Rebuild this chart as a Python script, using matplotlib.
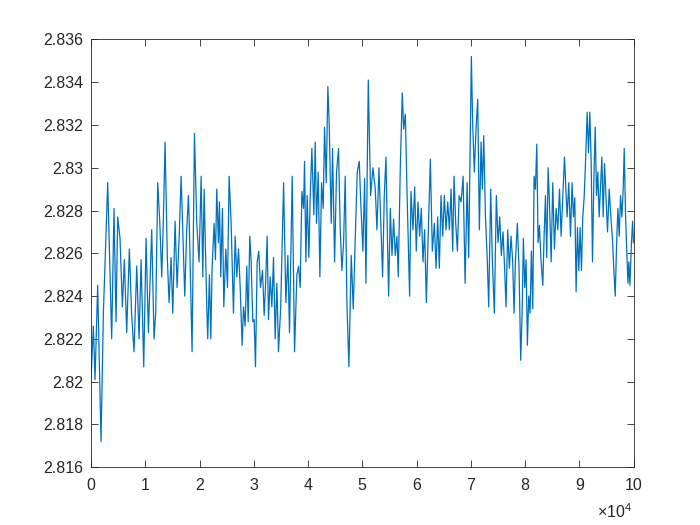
import numpy as np
import matplotlib
matplotlib.use("Agg")
import matplotlib.pyplot as plt

plt.rcParams['font.family'] = ['Liberation Sans', 'DejaVu Sans']
plt.rcParams['mathtext.fontset'] = 'custom'
plt.rcParams['mathtext.rm'] = 'Liberation Sans'
plt.rcParams['mathtext.it'] = 'Liberation Sans'

# x positions in units of 1e4
x_units = [
 0, 0.043, 0.074, 0.123, 0.185, 0.228, 0.308, 0.381, 0.424, 0.461, 0.492, 0.535, 0.578, 0.615, 0.658,
 0.707, 0.750, 0.793, 0.843, 0.886, 0.923, 0.972, 1.015, 1.058, 1.119, 1.162, 1.193, 1.230, 1.267, 1.304,
 1.335, 1.365, 1.408, 1.439, 1.476, 1.507, 1.550, 1.587, 1.630,
 1.661, 1.691, 1.728, 1.765, 1.796, 1.814, 1.863, 1.907, 1.950, 1.992, 2.030, 2.061, 2.085, 2.134, 2.152,
 2.183, 2.208, 2.232, 2.269, 2.294, 2.318, 2.349, 2.368, 2.392, 2.423, 2.448, 2.485, 2.516, 2.546, 2.583,
 2.626, 2.657, 2.688, 2.719, 2.750, 2.786, 2.811, 2.841, 2.872, 2.897, 2.927, 2.952, 2.983, 3.007, 3.032,
 3.063, 3.093, 3.124, 3.161, 3.192, 3.216, 3.247, 3.272, 3.303, 3.334, 3.364, 3.395, 3.426, 3.456,
 3.497, 3.55, 3.592, 3.629, 3.659, 3.709, 3.752, 3.795, 3.826, 3.856, 3.887, 3.918, 3.936, 3.961, 3.985,
 4.016, 4.041, 4.071, 4.108, 4.133, 4.157, 4.188, 4.219, 4.250, 4.280, 4.305, 4.336, 4.366, 4.391, 4.428,
 4.453, 4.490, 4.526, 4.563, 4.594, 4.625, 4.656, 4.686, 4.717, 4.754, 4.797, 4.834, 4.871, 4.908, 4.945,
 4.969, 5.012, 5.043, 5.068, 5.111, 5.154, 5.197,
 5.24, 5.271, 5.308, 5.345, 5.375, 5.406, 5.437, 5.468, 5.486, 5.517, 5.548, 5.578, 5.609, 5.640, 5.664,
 5.701, 5.738, 5.763, 5.794, 5.824, 5.873, 5.898, 5.935, 5.966, 5.996, 6.027, 6.058, 6.089, 6.119, 6.150,
 6.181, 6.218, 6.255, 6.292, 6.329, 6.360, 6.390, 6.421, 6.452, 6.483, 6.513, 6.544, 6.575, 6.606, 6.637,
 6.667, 6.692, 6.723, 6.754, 6.785, 6.822, 6.859, 6.896, 6.933, 6.962,
 6.993, 7.011, 7.036, 7.066, 7.097, 7.128, 7.159, 7.190, 7.214, 7.239, 7.270, 7.306, 7.331, 7.368, 7.399,
 7.435, 7.472, 7.503, 7.534, 7.564, 7.595, 7.626, 7.650, 7.681, 7.712, 7.743, 7.773, 7.798, 7.823, 7.859,
 7.890, 7.921, 7.946, 7.970, 7.995, 8.020, 8.044, 8.069, 8.094, 8.118, 8.143, 8.168, 8.192, 8.217, 8.241,
 8.266, 8.297, 8.328, 8.352, 8.377, 8.401, 8.426, 8.451, 8.482, 8.512, 8.543, 8.574, 8.605, 8.636, 8.666,
 8.697, 8.728,
 8.776, 8.807, 8.838, 8.868, 8.893, 8.918, 8.942, 8.967, 8.992, 9.016, 9.041, 9.065, 9.090, 9.115, 9.146,
 9.170, 9.195, 9.220, 9.244, 9.269, 9.294, 9.318, 9.343, 9.367, 9.392, 9.417, 9.441, 9.466, 9.497, 9.521,
 9.552, 9.583, 9.614, 9.638, 9.663, 9.687, 9.712, 9.737, 9.761, 9.786, 9.810, 9.829, 9.854, 9.878, 9.897,
 9.915, 9.934, 9.959, 9.983, 10.0,
]

y_values = [
 2.8201, 2.8226, 2.8201, 2.8245, 2.8172, 2.8232, 2.8293, 2.8220, 2.8281, 2.8228, 2.8277, 2.8267, 2.8235, 2.8257, 2.8223,
 2.8262, 2.8231, 2.8214, 2.8254, 2.8220, 2.8257, 2.8207, 2.8267, 2.8223, 2.8271, 2.8220, 2.8232, 2.8293, 2.8275, 2.8249,
 2.8277, 2.8312, 2.8257, 2.8237, 2.8258, 2.8232, 2.8275, 2.8244, 2.8271,
 2.8296, 2.8271, 2.8240, 2.8271, 2.8287, 2.8271, 2.8214, 2.8316, 2.8274, 2.8256, 2.8296, 2.8249, 2.8290, 2.8235, 2.8220,
 2.8250, 2.8220, 2.8253, 2.8274, 2.8257, 2.8290, 2.8265, 2.8284, 2.8249, 2.8281, 2.8235, 2.8262, 2.8244, 2.8296, 2.8274,
 2.8232, 2.8268, 2.8249, 2.8262, 2.8244, 2.8217, 2.8235, 2.8226, 2.8254, 2.8228, 2.8268, 2.8256, 2.8228, 2.8229, 2.8207,
 2.8256, 2.8261, 2.8244, 2.8252, 2.8231, 2.8244, 2.8268, 2.8229, 2.8249, 2.8235, 2.8258, 2.8220, 2.8246, 2.8214,
 2.8235, 2.8293, 2.8237, 2.8259, 2.8223, 2.8296, 2.8214, 2.8250, 2.8254, 2.8244, 2.8289, 2.8281, 2.8303, 2.8256, 2.8287,
 2.8258, 2.8287, 2.8309, 2.8278, 2.8312, 2.8274, 2.8298, 2.8249, 2.8293, 2.8281, 2.8319, 2.8293, 2.8338, 2.8320, 2.8274,
 2.8309, 2.8256, 2.8298, 2.8309, 2.8271, 2.8252, 2.8265, 2.8296, 2.8237, 2.8207, 2.8259, 2.8234, 2.8267, 2.8298, 2.8303,
 2.8286, 2.8261, 2.8295, 2.8246, 2.8341, 2.8287, 2.8300,
 2.8290, 2.8271, 2.8300, 2.8271, 2.8249, 2.8287, 2.8305, 2.8262, 2.8240, 2.8281, 2.8259, 2.8276, 2.8259, 2.8268, 2.8249,
 2.8300, 2.8335, 2.8318, 2.8325, 2.8290, 2.8240, 2.8289, 2.8271, 2.8291, 2.8261, 2.8284, 2.8268, 2.8281, 2.8256, 2.8271,
 2.8237, 2.8270, 2.8304, 2.8261, 2.8274, 2.8253, 2.8277, 2.8253, 2.8287, 2.8268, 2.8287, 2.8271, 2.8284, 2.8271, 2.8290,
 2.8261, 2.8296, 2.8274, 2.8261, 2.8287, 2.8284, 2.8296, 2.8246, 2.8293, 2.8258,
 2.8318, 2.8352, 2.8320, 2.8298, 2.8318, 2.8332, 2.8271, 2.8312, 2.8290, 2.8315, 2.8278, 2.8256, 2.8235, 2.8290, 2.8256,
 2.8232, 2.8287, 2.8265, 2.8277, 2.8259, 2.8270, 2.8252, 2.8235, 2.8271, 2.8253, 2.8268, 2.8256, 2.8232, 2.8256, 2.8274,
 2.8253, 2.8210, 2.8231, 2.8267, 2.8244, 2.8257, 2.8217, 2.8240, 2.8232, 2.8261, 2.8234, 2.8296, 2.8290, 2.8311, 2.8265,
 2.8273, 2.8256, 2.8245, 2.8268, 2.8287, 2.8258, 2.8300, 2.8284, 2.8256, 2.8293, 2.8262, 2.8281, 2.8271, 2.8290, 2.8268,
 2.8287, 2.8305,
 2.8277, 2.8293, 2.8268, 2.8293, 2.8277, 2.8286, 2.8242, 2.8272, 2.8252, 2.8272, 2.8252, 2.8277, 2.8286, 2.8302, 2.8326,
 2.8307, 2.8326, 2.8302, 2.8256, 2.8294, 2.8319, 2.8287, 2.8298, 2.8277, 2.8291, 2.8305, 2.8277, 2.8302, 2.8284, 2.8270,
 2.8290, 2.8277, 2.8266, 2.8252, 2.8240, 2.8263, 2.8281, 2.8268, 2.8287, 2.8277, 2.8290, 2.8309, 2.8277, 2.8259, 2.8246,
 2.8256, 2.8245, 2.8263, 2.8275, 2.8265,
]

x_scale = 1e4
x_ticks = list(range(0, 11))
y_ticks = [2.816, 2.818, 2.820, 2.822, 2.824, 2.826, 2.828, 2.830, 2.832, 2.834, 2.836]
y_tick_labels = ['2.816', '2.818', '2.82', '2.822', '2.824', '2.826', '2.828', '2.83', '2.832', '2.834', '2.836']

fig = plt.figure(figsize=(7, 5.25), dpi=100)
ax = fig.add_axes([0.13, 0.11, 0.775, 0.815])
ax.plot(np.array(x_units) * x_scale, y_values, color='#0072BD', linewidth=0.9)

ax.set_xlim(0, 10 * x_scale)
ax.set_ylim(2.816, 2.836)
ax.set_xticks([t * x_scale for t in x_ticks])
ax.set_xticklabels([str(t) for t in x_ticks])
ax.set_yticks(y_ticks)
ax.set_yticklabels(y_tick_labels)

edge = '#262626'
for s in ax.spines.values():
    s.set_color(edge)
    s.set_linewidth(0.6)
ax.tick_params(direction='in', length=5, width=0.6, colors=edge, labelsize=11.5,
               top=True, right=True, labelcolor=edge)
ax.tick_params(axis='y', pad=5.5)
ax.tick_params(axis='x', pad=8)

fig.text(0.903, 0.013, r'$\times10^{4}$', ha='right', va='baseline', fontsize=11.5, color=edge)

fig.savefig('out.png', dpi=100, facecolor='white')
